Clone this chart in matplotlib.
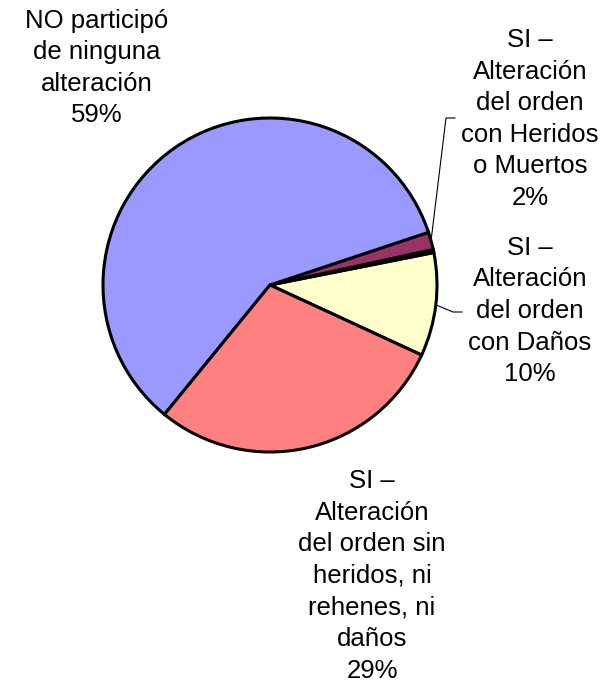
import numpy as np
import matplotlib.pyplot as plt

plt.rcParams['font.family'] = ['Liberation Sans', 'DejaVu Sans']

# slices, counter-clockwise starting at the yellow one
names = ["SI –\nAlteración\ndel orden\ncon Daños",
         "",
         "SI –\nAlteración\ndel orden\ncon Heridos\no Muertos",
         "NO participó\nde ninguna\nalteración",
         "SI –\nAlteración\ndel orden sin\nheridos, ni\nrehenes, ni\ndaños"]
values = [10.0, 0.3, 1.7, 59.0, 29.0]
colors = ["#FFFFCC", "#000000", "#993366", "#9999FF", "#FF8080"]

# label centres in pixel coords (x, y from top) and leader elbow points
label_pos = [(530, 311), None, (530, 119), (97, 68), (372, 576)]
leaders = [[(453, 312), (462, 312)], None, [(446, 118), (455, 118)], None, None]

W, H = 610, 688
fig = plt.figure(figsize=(W / 100, H / 100), dpi=100)
ax = fig.add_axes([0, 0, 1, 1])
ax.set_xlim(0, W)
ax.set_ylim(0, H)
ax.axis('off')

cx, cy, r = 270, H - 285, 167
start = -24.8
wedges, _ = ax.pie(values, colors=colors, center=(cx, cy), radius=r,
                   startangle=start, counterclock=True,
                   wedgeprops=dict(edgecolor='black', linewidth=2.2))
ax.set_xlim(0, W)
ax.set_ylim(0, H)
ax.set_aspect('equal')

total = sum(values)
for w, name, v, pos, lead in zip(wedges, names, values, label_pos, leaders):
    if pos is None:
        continue
    pct = round(100 * v / total)
    ax.text(pos[0], H - pos[1], f"{name}\n{pct}%", ha='center', va='center',
            fontsize=18.5, linespacing=1.4, color='black')
    if lead is not None:
        mid = np.deg2rad((w.theta1 + w.theta2) / 2)
        x0 = cx + r * np.cos(mid)
        y0 = cy + r * np.sin(mid)
        xs = [x0] + [p[0] for p in lead]
        ys = [y0] + [H - p[1] for p in lead]
        ax.plot(xs, ys, color='black', lw=0.8)

fig.savefig('out.png', dpi=100)
